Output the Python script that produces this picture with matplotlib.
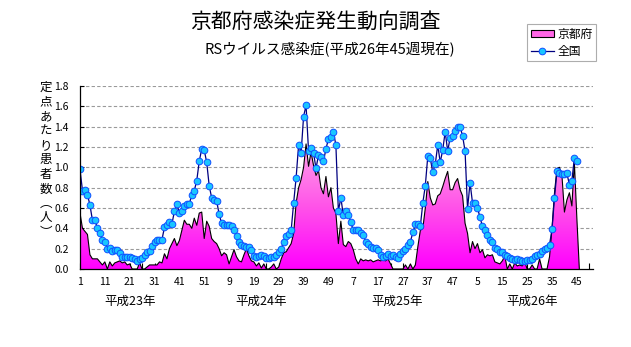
import numpy as np
import matplotlib
matplotlib.use('Agg')
import matplotlib.pyplot as plt
import matplotlib.transforms as mtransforms
from matplotlib.colors import LinearSegmentedColormap
from matplotlib.lines import Line2D
from matplotlib.patches import Patch

plt.rcParams['font.family'] = ['Noto Sans CJK JP', 'DejaVu Sans']

# data: per-sentinel weekly counts, H23 (2011) .. H26 (2014) week 45
year_labels = ['平成23年', '平成24年', '平成25年', '平成26年']
weeks_on_axis = [52, 52, 52, 52]

kyoto_h23 = [0.55, 0.40, 0.37, 0.34, 0.14, 0.10, 0.10, 0.10, 0.07, 0.04,
             0.07, 0.00, 0.07, 0.03, 0.06, 0.07, 0.08, 0.06, 0.07, 0.04,
             0.05, 0.00, 0.00, 0.00, 0.06, 0.00, 0.00, 0.02, 0.04, 0.04,
             0.04, 0.04, 0.07, 0.06, 0.15, 0.10, 0.20, 0.25, 0.30, 0.23,
             0.28, 0.38, 0.48, 0.44, 0.44, 0.40, 0.50, 0.43, 0.55, 0.56,
             0.30, 0.47]
kyoto_h24 = [0.42, 0.30, 0.27, 0.25, 0.20, 0.13, 0.16, 0.14, 0.05, 0.12,
             0.19, 0.12, 0.08, 0.07, 0.14, 0.20, 0.13, 0.08, 0.07, 0.03,
             0.06, 0.01, 0.05, 0.00, 0.00, 0.02, 0.05, 0.00, 0.02, 0.10,
             0.16, 0.17, 0.21, 0.25, 0.35, 0.65, 0.80, 0.88, 1.00, 1.23,
             1.01, 1.15, 1.02, 0.92, 0.97, 0.80, 0.74, 0.91, 0.71, 0.80,
             0.60, 0.55]
kyoto_h25 = [0.25, 0.47, 0.24, 0.22, 0.27, 0.25, 0.19, 0.10, 0.05, 0.10,
             0.08, 0.09, 0.08, 0.09, 0.07, 0.08, 0.09, 0.08, 0.09, 0.08,
             0.10, 0.05, 0.00, 0.00, 0.00, 0.00, 0.00, 0.04, 0.00, 0.05,
             0.00, 0.04, 0.22, 0.38, 0.40, 0.60, 0.86, 0.70, 0.63, 0.64,
             0.72, 0.74, 0.81, 0.89, 0.96, 0.78, 0.78, 0.85, 0.89, 0.78,
             0.72, 0.45]
kyoto_h26 = [0.35, 0.16, 0.27, 0.20, 0.25, 0.16, 0.19, 0.11, 0.14, 0.13,
             0.14, 0.07, 0.06, 0.05, 0.08, 0.13, 0.00, 0.05, 0.00, 0.06,
             0.03, 0.04, 0.03, 0.07, 0.00, 0.00, 0.04, 0.00, 0.00, 0.10,
             0.00, 0.00, 0.00, 0.12, 0.40, 0.75, 0.99, 1.00, 0.92, 0.56,
             0.68, 0.75, 0.62, 1.05, 0.50]

nation_h23 = [0.98, 0.77, 0.78, 0.73, 0.63, 0.48, 0.48, 0.40, 0.35, 0.29,
              0.27, 0.20, 0.21, 0.18, 0.19, 0.19, 0.16, 0.12, 0.12, 0.12,
              0.12, 0.11, 0.10, 0.08, 0.10, 0.11, 0.14, 0.17, 0.18, 0.23,
              0.27, 0.29, 0.29, 0.29, 0.41, 0.43, 0.46, 0.44, 0.57, 0.64,
              0.55, 0.57, 0.62, 0.64, 0.64, 0.73, 0.77, 0.87, 1.06, 1.18,
              1.17, 1.05]
nation_h24 = [0.82, 0.70, 0.68, 0.67, 0.54, 0.45, 0.43, 0.43, 0.43, 0.42,
              0.38, 0.32, 0.27, 0.24, 0.23, 0.22, 0.22, 0.19, 0.13, 0.12,
              0.13, 0.14, 0.13, 0.11, 0.11, 0.12, 0.12, 0.14, 0.17, 0.20,
              0.27, 0.32, 0.34, 0.38, 0.65, 0.90, 1.22, 1.14, 1.50, 1.61,
              1.16, 1.19, 1.14, 0.99, 1.12, 1.10, 1.06, 1.18, 1.28, 1.30,
              1.35, 1.22]
nation_h25 = [0.57, 0.70, 0.53, 0.57, 0.53, 0.46, 0.38, 0.38, 0.38, 0.35,
              0.33, 0.27, 0.25, 0.22, 0.21, 0.21, 0.19, 0.14, 0.12, 0.13,
              0.15, 0.13, 0.14, 0.12, 0.11, 0.15, 0.18, 0.20, 0.24, 0.27,
              0.36, 0.44, 0.44, 0.42, 0.65, 0.82, 1.11, 1.09, 0.95, 1.03,
              1.22, 1.05, 1.17, 1.35, 1.16, 1.29, 1.31, 1.36, 1.40, 1.40,
              1.31, 1.16]
nation_h26 = [0.59, 0.85, 0.65, 0.65, 0.60, 0.51, 0.42, 0.38, 0.33, 0.29,
              0.27, 0.21, 0.20, 0.17, 0.17, 0.14, 0.13, 0.11, 0.10, 0.09,
              0.10, 0.09, 0.08, 0.08, 0.09, 0.09, 0.10, 0.13, 0.14, 0.15,
              0.18, 0.20, 0.21, 0.24, 0.39, 0.70, 0.96, 0.94, 0.93, 0.93,
              0.94, 0.83, 0.87, 1.09, 1.06]

kyoto = np.array(kyoto_h23 + kyoto_h24 + kyoto_h25 + kyoto_h26)
nation = np.array(nation_h23 + nation_h24 + nation_h25 + nation_h26)

# week number of every category on the axis
week_no = np.concatenate([np.arange(1, n + 1) for n in weeks_on_axis])
year_start = np.concatenate([[0], np.cumsum(weeks_on_axis)[:-1]])

W, H = 631, 347
fig = plt.figure(figsize=(W / 100, H / 100), dpi=100)
ax = fig.add_axes([80 / W, 1 - 269 / H, 513 / W, 183 / H])

# gridlines
for v in np.arange(0.2, 1.81, 0.2):
    ax.axhline(v, color='#9a9a9a', lw=0.8, ls=(0, (3, 2)), zorder=1)

# Kyoto area with vertical gradient
xk = np.arange(len(kyoto) + 1)
yk = np.append(kyoto, 0.0)
poly = ax.fill_between(xk, yk, 0, facecolor='none', edgecolor='none')
cmap = LinearSegmentedColormap.from_list('pink', ['#ff00ff', '#ff55e8', '#ffa8ea'])
grad = np.linspace(0, 1, 256).reshape(-1, 1)
im = ax.imshow(grad, extent=[0, len(xk), 0, 1.25], origin='lower',
               aspect='auto', cmap=cmap, zorder=2, interpolation='bilinear')
im.set_clip_path(poly.get_paths()[0], ax.transData)
ax.plot(xk, yk, color='black', lw=0.8, zorder=3)

# nationwide line
xn = np.arange(len(nation))
ax.plot(xn, nation, color='#000080', lw=0.9, marker='o', ms=4.8,
        mfc='#19c6ff', mec='#1050ff', mew=0.7, zorder=4)

ax.set_xlim(0, 206.5)
ax.set_ylim(0, 1.8)
ax.set_yticks(np.arange(0, 1.81, 0.2))
ax.set_yticklabels(['%.1f' % v for v in np.arange(0, 1.81, 0.2)], fontsize=7.5)
ax.set_xticks(np.arange(0, len(week_no), 5), minor=True)
major = np.arange(0, len(week_no), 10)
ax.set_xticks(major)
ax.set_xticklabels([str(week_no[i]) for i in major], fontsize=7.5)
ax.tick_params(axis='x', which='both', direction='in', length=4, pad=6, width=0.8)
ax.tick_params(axis='y', direction='in', length=3, pad=8, width=0.8)
for s in ['top', 'right']:
    ax.spines[s].set_visible(False)
for s in ['left', 'bottom']:
    ax.spines[s].set_linewidth(0.9)
    ax.spines[s].set_zorder(5)

# year labels under the axis
trans = mtransforms.blended_transform_factory(ax.transData, ax.transAxes)
for start, off, lab in zip(year_start, [20, 21, 23.5, 26], year_labels):
    ax.text(start + off, -0.175, lab, transform=trans,
            ha='center', va='center', fontsize=9, clip_on=False)

# titles
fig.text(0.5, 1 - 22 / H, '京都府感染症発生動向調査', ha='center', va='center', fontsize=15)
fig.text(330 / W, 1 - 50 / H, 'RSウイルス感染症(平成26年45週現在)', ha='center',
         va='center', fontsize=10.5)

# vertical y label
fig.text(46 / W, 1 - 160 / H, '\n'.join('定点あたり患者数︵人︶'), ha='center',
         va='center', fontsize=9, linespacing=1.15)

handles = [Patch(facecolor='#ff66e6', edgecolor='black', lw=0.8),
           Line2D([], [], color='#000080', lw=0.9, marker='o', ms=4.8,
                  mfc='#19c6ff', mec='#1050ff', mew=0.7)]
leg = fig.legend(handles, ['京都府', '全国'], loc='upper left',
                 bbox_to_anchor=(527 / W, 1 - 24 / H), fontsize=8.5,
                 frameon=True, fancybox=False, edgecolor='#999999',
                 handlelength=2.0, handleheight=0.6, borderpad=0.3,
                 labelspacing=0.35, handletextpad=0.3, borderaxespad=0)
leg.get_frame().set_linewidth(0.8)

fig.savefig('out.png', dpi=100)
